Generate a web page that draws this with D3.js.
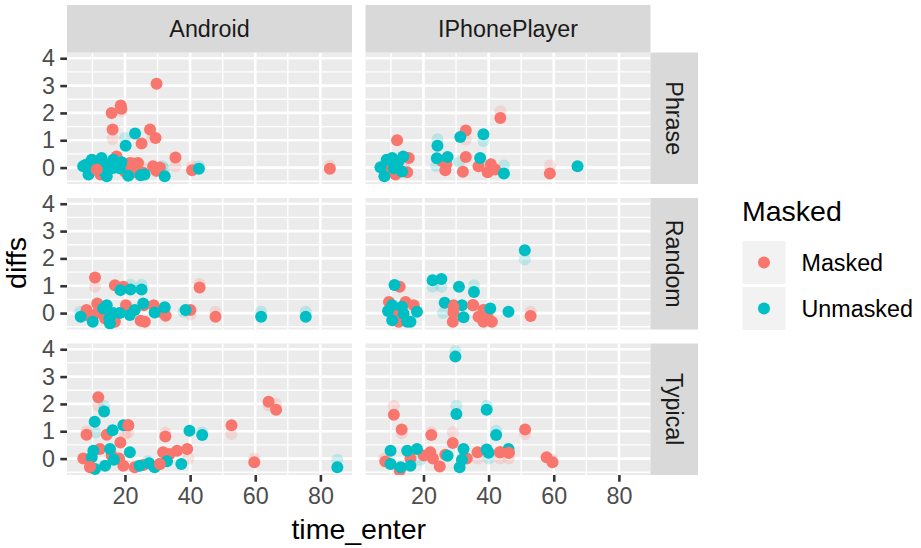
<!DOCTYPE html>
<html>
<head>
<meta charset="utf-8">
<script src="https://cdn.jsdelivr.net/npm/d3@7"></script>
<style>
  body { margin: 0; background: #ffffff; }
  svg { display: block; font-family: "Liberation Sans", Arial, Helvetica, sans-serif; }
</style>
</head>
<body>
<svg id="chart" width="921" height="548"></svg>
<script>
// Facets, groups and axis ticks
const platforms = ["Android", "IPhonePlayer"];
const tasks = ["Phrase", "Random", "Typical"];
const groups = ["Masked", "Unmasked"];
const groupColors = ["#F8766D", "#00BFC4"];
const xTicks = [20, 40, 60, 80];
const xMinorTicks = [10, 30, 50, 70];
const yTicks = [0, 1, 2, 3, 4];
const yMinorTicks = [-0.5, 0.5, 1.5, 2.5, 3.5];

// Each entry: [time_enter, diffs, group] with group "M" (Masked) or "U" (Unmasked).
// *Obs arrays are the observed values (faint layer); *Jit arrays are the jittered points.
const phraseAndroidObs = [
  [18.9,2.06,"M"],[16.2,1.05,"M"],[35.5,0.05,"M"],[40.6,0.05,"M"],[82.9,0.07,"M"],[28.5,1.1,"M"],[17.5,0.3,"M"],[25,0.05,"M"],[29,0.0,"M"],
  [20,1.08,"U"],[42.7,0.05,"U"],[32,-0.05,"U"],[31.5,0.05,"U"],[7,0.05,"U"],[22,0.0,"U"]
];
const phraseAndroidJit = [
  [29.7,3.07,"M"],[18.7,2.27,"M"],[18.9,2.15,"M"],[15.9,2.0,"M"],[16.2,1.39,"M"],[27.7,1.39,"M"],[29.4,1.08,"M"],[25.1,0.88,"M"],
  [35.5,0.37,"M"],[40.6,-0.1,"M"],[82.9,-0.04,"M"],[17.4,0.41,"M"],[21.5,0.17,"M"],[24.0,0.17,"M"],[22.0,-0.19,"M"],[24.5,-0.22,"M"],
  [25.6,-0.19,"M"],[28.6,0.05,"M"],[29.6,-0.12,"M"],[30.7,0.0,"M"],[13.3,-0.19,"M"],[12.5,-0.25,"M"],[14.5,-0.1,"M"],[19,0.05,"M"],[20,-0.15,"M"],
  [23.1,1.25,"U"],[20.2,0.80,"U"],[42.7,-0.04,"U"],[32.2,-0.32,"U"],[7.2,0.05,"U"],[9.8,0.29,"U"],[12.8,0.35,"U"],[16.4,0.29,"U"],
  [17.9,0.17,"U"],[10.3,-0.07,"U"],[8.8,-0.25,"U"],[14.4,-0.32,"U"],[13.3,-0.12,"U"],[18.4,-0.02,"U"],[12.3,0.05,"U"],[15.9,-0.02,"U"],
  [8,0.1,"U"],[11,0.15,"U"],[15,0.1,"U"],[19,0.2,"U"],[17,0.0,"U"],[24.8,-0.28,"U"],[26,-0.25,"U"],[21,-0.3,"U"],
  [11.3,-0.07,"M"],[22.5,0.15,"M"]
];
const phraseIphoneObs = [
  [43.6,2.06,"M"],[33,1.02,"M"],[58.8,0.08,"M"],[38,0.05,"M"],[14,0.1,"M"],
  [24.3,1.04,"U"],[38.4,0.97,"U"],[44.7,0.08,"U"],[23.9,0.06,"U"],[31,0.2,"U"]
];
const phraseIphoneJit = [
  [43.6,1.81,"M"],[33.0,1.36,"M"],[11.9,1.0,"M"],[25.7,0.24,"M"],[27,0.12,"M"],[26.7,-0.1,"M"],[33,0.39,"M"],[32.1,-0.15,"M"],
  [36.9,0.05,"M"],[40.7,0.12,"M"],[39.7,-0.17,"M"],[42,-0.07,"M"],[58.8,-0.22,"M"],[15.5,0.35,"M"],[15,-0.17,"M"],[11.4,-0.25,"M"],
  [11.9,0.12,"M"],[9.4,-0.02,"M"],
  [31.3,1.12,"U"],[38.4,1.22,"U"],[24.3,0.80,"U"],[24.1,0.34,"U"],[27.4,0.39,"U"],[37.4,0.35,"U"],[44.7,-0.22,"U"],[67.3,0.05,"U"],
  [6.8,0.01,"U"],[8.0,-0.32,"U"],[8.7,0.29,"U"],[10.4,0.35,"U"],[13.8,0.41,"U"],[10.9,-0.02,"U"],[13.4,-0.14,"U"],[12.4,0.24,"U"]
];
const randomAndroidObs = [
  [10.8,0.96,"M"],[42.9,1.06,"M"],[47.8,0.05,"M"],[40.1,-0.05,"M"],
  [21.7,1.04,"U"],[25.1,1.04,"U"],[61.8,0.05,"U"],[75.5,0.05,"U"],[6.2,0.05,"U"],[38,0.05,"U"]
];
const randomAndroidJit = [
  [10.8,1.30,"M"],[16.9,1.02,"M"],[19.5,0.96,"M"],[42.9,0.94,"M"],[40.1,0.11,"M"],[47.8,-0.13,"M"],[8.2,0.11,"M"],[8.2,-0.07,"M"],
  [11.5,0.35,"M"],[11.5,0.0,"M"],[16.9,-0.32,"M"],[20.3,0.29,"M"],[24.8,-0.28,"M"],[26.1,-0.32,"M"],[25.8,0.29,"M"],[28.8,0.29,"M"],
  [30.7,0.05,"M"],[32.5,-0.1,"M"],[13.9,-0.2,"M"],
  [18.6,0.84,"U"],[21.7,0.86,"U"],[25.1,0.86,"U"],[38.6,0.11,"U"],[61.8,-0.13,"U"],[75.5,-0.13,"U"],[6.4,-0.13,"U"],[10.1,-0.32,"U"],
  [14.4,0.29,"U"],[15.2,-0.2,"U"],[15.4,-0.38,"U"],[18.4,0.0,"U"],[21.5,-0.07,"U"],[23,0.11,"U"],[25.6,0.35,"U"],[29.1,0.02,"U"],
  [32.2,0.21,"U"],[13.3,0.17,"U"],[16.4,0.0,"U"]
];
const randomIphoneObs = [
  [52.9,0.05,"M"],[40,0.0,"M"],
  [51.1,1.96,"U"],[22.8,0.96,"U"],[25.5,0.96,"U"],[35.5,1.02,"U"],[26,0.0,"U"]
];
const randomIphoneJit = [
  [12.7,0.96,"M"],[29.2,0.29,"M"],[35.2,0.29,"M"],[29.2,0.01,"M"],[29,-0.32,"M"],[38.4,0.11,"M"],[36.9,-0.13,"M"],[38.4,-0.32,"M"],
  [41,-0.32,"M"],[39.6,-0.13,"M"],[52.9,-0.11,"M"],[9.4,0.41,"M"],[14.5,0.41,"M"],[17,0.29,"M"],[12.4,-0.32,"M"],[11.9,0.05,"M"],
  [51.1,2.30,"U"],[22.8,1.20,"U"],[25.5,1.25,"U"],[11.1,1.03,"U"],[30.9,0.96,"U"],[35.5,0.77,"U"],[26.5,0.38,"U"],[31.8,0.29,"U"],
  [32.3,-0.15,"U"],[40.5,0.17,"U"],[46.1,0.05,"U"],[10.4,0.29,"U"],[9.1,0.08,"U"],[18,0.05,"U"],[10.4,-0.26,"U"],[15,-0.32,"U"],
  [16,-0.32,"U"],[13.4,0.23,"U"],[13.9,-0.02,"U"],
  [29.2,0.22,"M"],[35.2,0.3,"M"]
];
const typicalAndroidObs = [
  [11.8,1.93,"M"],[8.2,1.0,"M"],[21,0.95,"M"],[64.1,1.95,"M"],[66.4,2.0,"M"],[52.7,0.9,"M"],[32.4,0.95,"M"],[59.7,0.0,"M"],[39.5,0.0,"M"],[20,0.9,"M"],
  [13.6,1.93,"U"],[85.2,-0.04,"U"],[43.7,0.95,"U"],[11,0.95,"U"],[27,-0.1,"U"]
];
const typicalAndroidJit = [
  [11.8,2.24,"M"],[8.2,0.87,"M"],[14.4,0.87,"M"],[21,1.22,"M"],[64.1,2.08,"M"],[66.4,1.79,"M"],[52.7,1.22,"M"],[32.4,0.81,"M"],
  [59.7,-0.13,"M"],[7.2,0.0,"M"],[9.3,-0.32,"M"],[12.3,0.35,"M"],[18.6,0.59,"M"],[18.2,0.0,"M"],[19.5,-0.26,"M"],[15.9,0.11,"M"],
  [23,-0.32,"M"],[25.6,-0.23,"M"],[30.7,-0.2,"M"],[31.7,0.23,"M"],[33.7,0.17,"M"],[36,0.29,"M"],[39.1,0.35,"M"],
  [13.6,1.72,"U"],[10.7,1.35,"U"],[16.2,1.04,"U"],[19.5,1.22,"U"],[39.8,1.02,"U"],[43.7,0.86,"U"],[85.2,-0.32,"U"],[10.3,0.29,"U"],
  [9.8,0.05,"U"],[10.8,-0.38,"U"],[13.9,-0.26,"U"],[15.4,0.35,"U"],[16.6,-0.04,"U"],[21.5,0.23,"U"],[24.5,-0.26,"U"],[29.1,-0.32,"U"],
  [32.9,-0.1,"U"],[37.3,-0.2,"U"],[27.4,-0.17,"U"],
  [21,1.22,"M"],[9.3,-0.3,"M"],[30.7,-0.2,"M"]
];
const typicalIphoneObs = [
  [10.9,1.93,"M"],[13.3,0.93,"M"],[22.4,0.96,"M"],[51.2,0.9,"M"],[29,0.96,"M"],[43.5,0.0,"M"],[46.2,0.0,"M"],[36.6,0.0,"M"],[59.6,-0.04,"M"],[8,0.0,"M"],
  [29.8,3.94,"U"],[30.1,1.93,"U"],[39.4,1.93,"U"],[42.3,1.02,"U"],[40,0.0,"U"],[19,-0.05,"U"]
];
const typicalIphoneJit = [
  [10.9,1.60,"M"],[13.3,1.06,"M"],[22.4,0.86,"M"],[51.2,1.06,"M"],[29,0.57,"M"],[8.3,-0.11,"M"],[12.7,-0.44,"M"],[16,0.0,"M"],
  [20.1,0.11,"M"],[22.1,0.23,"M"],[22.9,0.0,"M"],[25,-0.29,"M"],[26.7,0.14,"M"],[33.3,0.0,"M"],[36.6,0.23,"M"],[43.5,0.23,"M"],
  [46.2,0.21,"M"],[57.8,0.05,"M"],[59.6,-0.13,"M"],
  [29.8,3.73,"U"],[30.1,1.63,"U"],[39.4,1.79,"U"],[42.3,0.86,"U"],[9.9,0.29,"U"],[15,0.29,"U"],[18,0.35,"U"],[9.9,-0.2,"U"],
  [13,-0.32,"U"],[16,-0.26,"U"],[27.4,0.1,"U"],[32.3,0.35,"U"],[31.8,-0.04,"U"],[31.1,-0.32,"U"],[39.4,0.33,"U"],[40,0.21,"U"],
  [46.1,0.35,"U"],
  [43.5,0.23,"M"],[46.2,0.21,"M"]
];

// Lookup of panel data by [task][platform]
const panelData = {
  Phrase:  { Android: [phraseAndroidObs, phraseAndroidJit],   IPhonePlayer: [phraseIphoneObs, phraseIphoneJit] },
  Random:  { Android: [randomAndroidObs, randomAndroidJit],   IPhonePlayer: [randomIphoneObs, randomIphoneJit] },
  Typical: { Android: [typicalAndroidObs, typicalAndroidJit], IPhonePlayer: [typicalIphoneObs, typicalIphoneJit] }
};

// Layout
const colLeft = [67, 365.5];
const rowTop = [52.5, 198, 343.5];
const panelW = 285, panelH = 131.5;
const stripSize = 47.5;
const ptR = 6;
const tickLen = 6.7;
const smallFont = 23.3, bigFont = 28.5;

const svg = d3.select("#chart");
const x = d3.scaleLinear().domain([2.2, 89.7]).range([0, panelW]);
const y = d3.scaleLinear().domain([-0.6, 4.21]).range([panelH, 0]);
const color = d3.scaleOrdinal().domain(["M", "U"]).range(groupColors);

tasks.forEach((task, ri) => {
  platforms.forEach((plat, ci) => {
    const g = svg.append("g").attr("transform", `translate(${colLeft[ci]},${rowTop[ri]})`);
    g.append("rect").attr("width", panelW).attr("height", panelH).attr("fill", "#EBEBEB");

    // minor grid
    g.selectAll(".gxm").data(xMinorTicks).join("line")
      .attr("x1", d => x(d)).attr("x2", d => x(d)).attr("y1", 0).attr("y2", panelH)
      .attr("stroke", "#fff").attr("stroke-width", 1.3);
    g.selectAll(".gym").data(yMinorTicks).join("line")
      .attr("y1", d => y(d)).attr("y2", d => y(d)).attr("x1", 0).attr("x2", panelW)
      .attr("stroke", "#fff").attr("stroke-width", 1.3);
    // major grid
    g.selectAll(".gx").data(xTicks).join("line")
      .attr("x1", d => x(d)).attr("x2", d => x(d)).attr("y1", 0).attr("y2", panelH)
      .attr("stroke", "#fff").attr("stroke-width", 2.6);
    g.selectAll(".gy").data(yTicks).join("line")
      .attr("y1", d => y(d)).attr("y2", d => y(d)).attr("x1", 0).attr("x2", panelW)
      .attr("stroke", "#fff").attr("stroke-width", 2.6);

    const [obs, jit] = panelData[task][plat];
    const clip = `clip-${ri}-${ci}`;
    g.append("clipPath").attr("id", clip).append("rect").attr("width", panelW).attr("height", panelH);
    const pts = g.append("g").attr("clip-path", `url(#${clip})`);
    pts.selectAll(".obs").data(obs).join("circle")
      .attr("cx", d => x(d[0])).attr("cy", d => y(d[1])).attr("r", ptR)
      .attr("fill", d => color(d[2])).attr("fill-opacity", 0.2);
    pts.selectAll(".jit").data(jit).join("circle")
      .attr("cx", d => x(d[0])).attr("cy", d => y(d[1])).attr("r", ptR)
      .attr("fill", d => color(d[2]));

    // axes
    if (ci === 0) {
      const ax = g.append("g").call(d3.axisLeft(y).tickValues(yTicks).tickFormat(d3.format("d"))
        .tickSize(tickLen).tickPadding(5.4));
      ax.select(".domain").remove();
      ax.selectAll("line").attr("stroke", "#333333").attr("stroke-width", 2.6);
      ax.selectAll("text").attr("fill", "#4D4D4D").attr("font-size", smallFont)
        .attr("font-family", "Liberation Sans, Arial, sans-serif");
    }
    if (ri === tasks.length - 1) {
      const ax = g.append("g").attr("transform", `translate(0,${panelH})`)
        .call(d3.axisBottom(x).tickValues(xTicks).tickSize(tickLen).tickPadding(5.4));
      ax.select(".domain").remove();
      ax.selectAll("line").attr("stroke", "#333333").attr("stroke-width", 2.6);
      ax.selectAll("text").attr("fill", "#4D4D4D").attr("font-size", smallFont)
        .attr("font-family", "Liberation Sans, Arial, sans-serif");
    }
    // top strips
    if (ri === 0) {
      svg.append("rect").attr("x", colLeft[ci]).attr("y", rowTop[0] - stripSize)
        .attr("width", panelW).attr("height", stripSize).attr("fill", "#D9D9D9");
      svg.append("text").attr("x", colLeft[ci] + panelW / 2).attr("y", rowTop[0] - stripSize / 2)
        .attr("text-anchor", "middle").attr("dominant-baseline", "central")
        .attr("font-size", smallFont).attr("fill", "#1A1A1A").text(plat);
    }
    // right strips
    if (ci === platforms.length - 1) {
      const sx = colLeft[ci] + panelW;
      svg.append("rect").attr("x", sx).attr("y", rowTop[ri])
        .attr("width", stripSize).attr("height", panelH).attr("fill", "#D9D9D9");
      svg.append("text")
        .attr("transform", `translate(${sx + stripSize / 2},${rowTop[ri] + panelH / 2}) rotate(90)`)
        .attr("text-anchor", "middle").attr("dominant-baseline", "central")
        .attr("font-size", smallFont).attr("fill", "#1A1A1A").text(task);
    }
  });
});

// axis titles
svg.append("text").attr("x", (colLeft[0] + colLeft[1] + panelW) / 2).attr("y", 539)
  .attr("text-anchor", "middle").attr("font-size", bigFont).attr("fill", "#000").text("time_enter");
svg.append("text").attr("transform", "translate(26,263) rotate(-90)")
  .attr("text-anchor", "middle").attr("font-size", bigFont).attr("fill", "#000").text("diffs");

// legend
const lg = svg.append("g").attr("transform", "translate(742,0)");
lg.append("text").attr("x", 0).attr("y", 221).attr("font-size", bigFont).attr("fill", "#000").text("Masked");
const keyTop = [241, 287];
groups.forEach((gname, i) => {
  lg.append("rect").attr("x", 0.5).attr("y", keyTop[i]).attr("width", 43).attr("height", 43).attr("fill", "#F2F2F2");
  lg.append("circle").attr("cx", 22).attr("cy", keyTop[i] + 21.5).attr("r", ptR).attr("fill", groupColors[i]);
  lg.append("text").attr("x", 59.5).attr("y", keyTop[i] + 21.5).attr("dominant-baseline", "central")
    .attr("font-size", smallFont).attr("fill", "#000").text(gname);
});
</script>
</body>
</html>
